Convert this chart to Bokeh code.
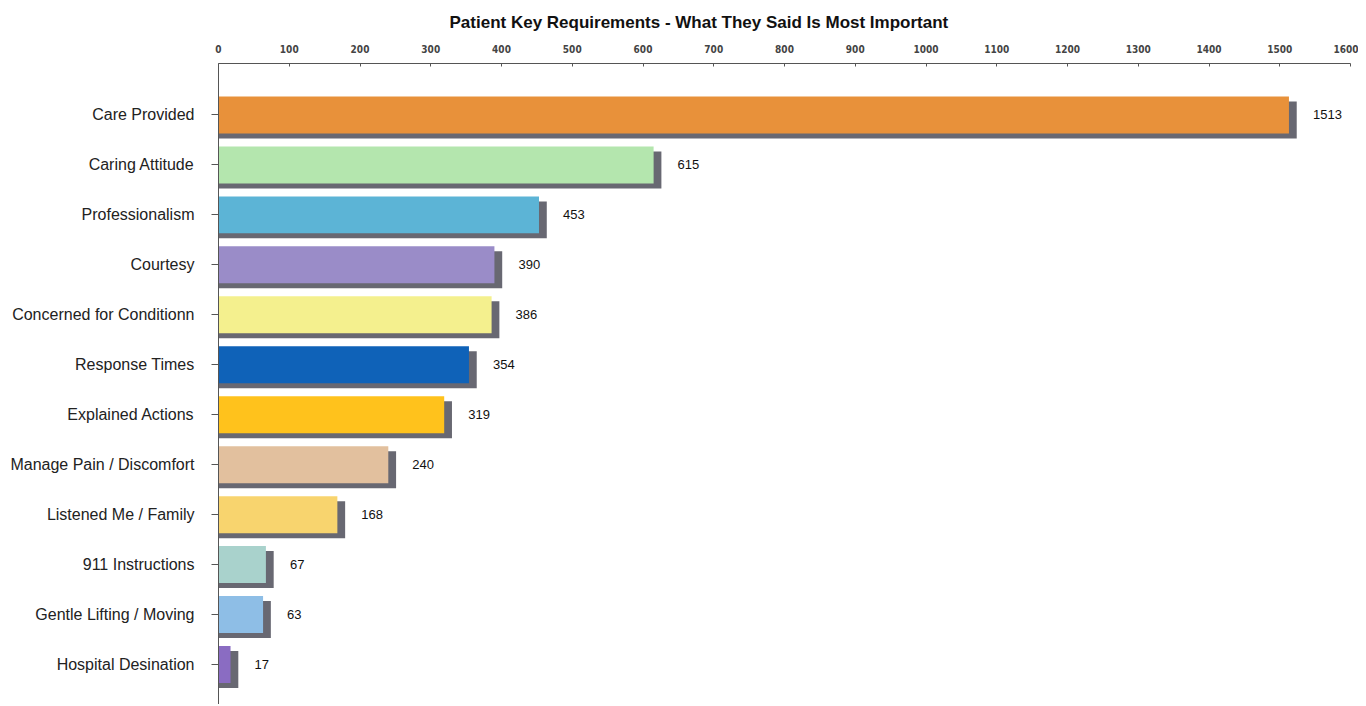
from bokeh.plotting import figure
from bokeh.models import ColumnDataSource, Range1d, FixedTicker, Title
from bokeh.transform import dodge
from bokeh.embed import file_html
from bokeh.resources import INLINE

categories = ["Care Provided", "Caring Attitude", "Professionalism", "Courtesy",
              "Concerned for Conditionn", "Response Times", "Explained Actions",
              "Manage Pain / Discomfort", "Listened Me / Family", "911 Instructions",
              "Gentle Lifting / Moving", "Hospital Desination"]
values = [1513, 615, 453, 390, 386, 354, 319, 240, 168, 67, 63, 17]
colors = ["#E8913A", "#B4E6AE", "#5CB4D6", "#9A8CC8", "#F4F08E", "#0F62B8",
          "#FFC21C", "#E2C09E", "#F8D46E", "#A9D2CC", "#8EBEE6", "#8A6CC2"]
x_ticks = list(range(0, 1700, 100))

pos = list(range(len(categories)))
src = ColumnDataSource(dict(
    y=pos, v=values, c=colors, lab=[str(v) for v in values],
    shadow=[v + 11 for v in values],
))

p = figure(width=1358, height=704, output_backend="svg", toolbar_location=None,
           x_range=Range1d(0, 1600), y_range=Range1d(11.8, -1.03),
           x_axis_location="above", min_border_left=218, min_border_right=8,
           min_border_bottom=0, min_border_top=62)
p.title = Title(text="Patient Key Requirements - What They Said Is Most Important",
                align="left", offset=231, text_font="Liberation Sans",
                text_font_size="17px", text_font_style="bold",
                text_color="#111111", standoff=20)
p.outline_line_color = None
p.grid.visible = False

p.hbar(y=dodge("y", 0.1), left=0, right="shadow", height=0.74, source=src,
       fill_color="#686872", line_color=None)
p.hbar(y="y", left=0, right="v", height=0.74, source=src,
       fill_color="c", line_color=None)
p.text(x="v", y="y", text="lab", source=src, x_offset=24, text_baseline="middle",
       text_font_size="13px", text_color="#111111")

xa = p.xaxis[0]
xa.ticker = FixedTicker(ticks=x_ticks)
xa.major_label_text_font = "DejaVu Sans Condensed"
xa.major_label_text_font_style = "bold"
xa.major_label_text_font_size = "10px"
xa.major_tick_in = 3
xa.major_tick_out = 0
xa.minor_tick_line_color = None
xa.axis_line_color = "#555555"
xa.major_tick_line_color = "#555555"
xa.major_label_standoff = 11

ya = p.yaxis[0]
ya.ticker = FixedTicker(ticks=pos)
ya.major_label_overrides = {i: c for i, c in enumerate(categories)}
ya.major_label_text_font = "Liberation Sans"
ya.major_label_text_font_size = "16px"
ya.major_label_text_color = "#222222"
ya.major_tick_in = 0
ya.major_tick_out = 7
ya.minor_tick_line_color = None
ya.axis_line_color = "#555555"
ya.major_tick_line_color = "#555555"
ya.major_label_standoff = 17

open("out.html", "w").write(file_html(p, INLINE))
